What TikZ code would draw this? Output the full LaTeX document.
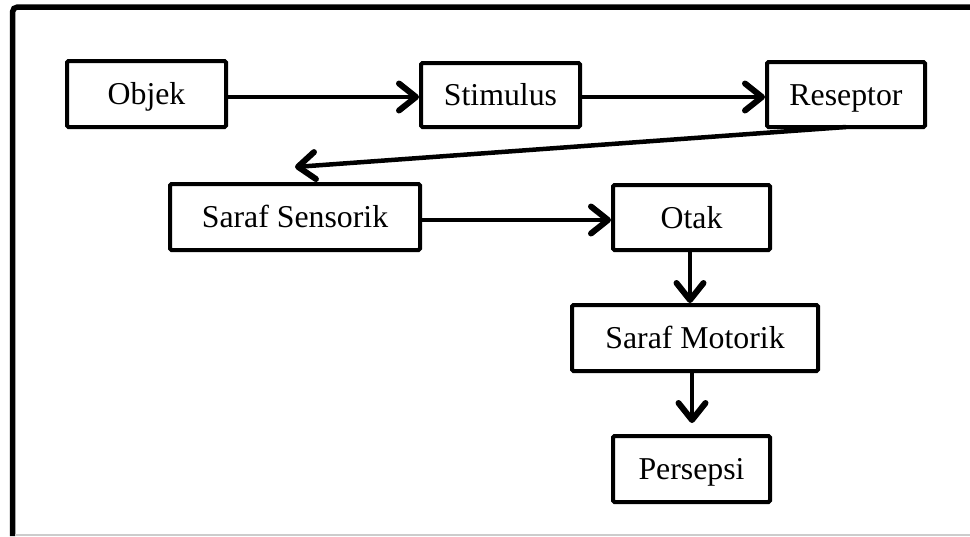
\documentclass[tikz,border=0pt]{standalone}
\usepackage{fontspec}
\setmainfont{Liberation Serif}
\usetikzlibrary{arrows.meta}
\begin{document}
\begin{tikzpicture}[x=1pt,y=-1pt,
    box/.style={draw,line width=4pt,rounded corners=1.5pt,inner sep=0pt,
      text height=21pt,text depth=0pt,
      font=\fontsize{31.8}{36}\selectfont},
    link/.style={line width=4.5pt,-{Straight Barb[length=17pt,width=27pt,line width=6pt 0,line cap=round,line join=round]}}]
    \useasboundingbox (0,0) rectangle (970,536);
    \draw[line width=5.5pt,rounded corners=5pt] (12.5,536) -- (12.5,7) -- (970,7);
    \draw[black!20,line width=1.5pt] (15,535) -- (970,535);

    \node[box,minimum width=159pt,minimum height=66pt] (objek) at (146.5,94) {Objek};
    \node[box,minimum width=159pt,minimum height=64pt] (stimulus) at (500.5,95) {Stimulus};
    \node[box,minimum width=158pt,minimum height=65pt] (reseptor) at (846,94.5) {Reseptor};
    \node[box,minimum width=250pt,minimum height=66pt] (sensorik) at (295,217) {Saraf Sensorik};
    \node[box,minimum width=157pt,minimum height=65pt] (otak) at (691.5,217.5) {Otak};
    \node[box,minimum width=246pt,minimum height=66pt] (motorik) at (695,338) {Saraf Motorik};
    \node[box,minimum width=157pt,minimum height=66pt] (persepsi) at (691.5,469) {Persepsi};

    \draw[link] (objek.east |- 0,97) -- (stimulus.west |- 0,97);
    \draw[link] (stimulus.east |- 0,97) -- (reseptor.west |- 0,97);
    \draw[link] ([yshift=2pt]reseptor.south) -- ([yshift=15pt]sensorik.north);
    \draw[link] (sensorik.east |- 0,220) -- (otak.west |- 0,220);
    \draw[link] (otak.south -| 690,0) -- (motorik.north -| 690,0);
    \draw[link] (motorik.south -| 692,0) -- ([yshift=11pt]persepsi.north -| 692,0);
\end{tikzpicture}
\end{document}
